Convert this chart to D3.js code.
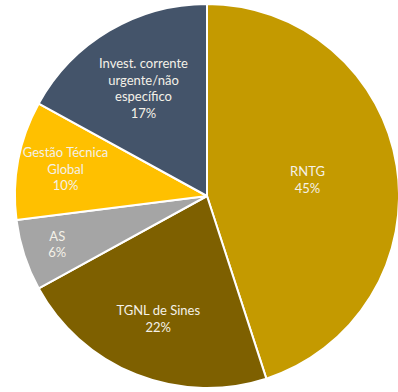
<!DOCTYPE html>
<html>
<head>
<meta charset="utf-8">
<script src="https://cdn.jsdelivr.net/npm/d3@7/dist/d3.min.js"></script>
<style>
  html, body { margin: 0; padding: 0; background: #fff; }
  svg { display: block; }
</style>
</head>
<body>
<svg id="chart" width="398" height="392"></svg>
<script>
// Investment split by area (percent of total)
const categories = ["RNTG", "TGNL de Sines", "AS", "Gestão Técnica Global", "Invest. corrente urgente/não específico"];
const values = [45, 22, 6, 10, 17];
// Label lines shown inside each slice
const labelLines = [
  ["RNTG"],
  ["TGNL de Sines"],
  ["AS"],
  ["Gestão Técnica", "Global"],
  ["Invest. corrente", "urgente/não", "específico"]
];
const colors = ["#C49A00", "#7E6000", "#A5A5A5", "#FFC000", "#44546A"];

const width = 398, height = 392;
const cx = 207, cy = 196, radius = 192;
// how far out (fraction of radius) each label sits
const labelRadius = [0.53, 0.69, 0.82, 0.75, 0.65];

const svg = d3.select("#chart");
const g = svg.append("g").attr("transform", `translate(${cx},${cy})`);

const pie = d3.pie().sort(null).value(d => d.value);
const data = categories.map((c, i) => ({ name: c, value: values[i], lines: labelLines[i], color: colors[i], lr: labelRadius[i] }));
const arcs = pie(data);

const arc = d3.arc().innerRadius(0).outerRadius(radius);

g.selectAll("path.slice")
  .data(arcs)
  .join("path")
  .attr("class", "slice")
  .attr("d", arc)
  .attr("fill", d => d.data.color)
  .attr("stroke", "#fff")
  .attr("stroke-width", 2)
  .attr("stroke-linejoin", "round");

const lineH = 16.5;
const labels = g.selectAll("text.lbl")
  .data(arcs)
  .join("text")
  .attr("class", "lbl")
  .attr("text-anchor", "middle")
  .attr("font-family", "Lato, 'Open Sans', sans-serif")
  .attr("font-size", 13)
  .attr("fill", "#F4F1E8")
  .attr("transform", d => {
    const a = (d.startAngle + d.endAngle) / 2;
    const r = radius * d.data.lr;
    return `translate(${Math.sin(a) * r},${-Math.cos(a) * r})`;
  });

labels.each(function(d) {
  const lines = d.data.lines.concat([d.data.value + "%"]);
  const t = d3.select(this);
  const y0 = -((lines.length - 1) * lineH) / 2 + 4.5;
  lines.forEach((ln, i) => {
    t.append("tspan").attr("x", 0).attr("y", y0 + i * lineH).text(ln);
  });
});
</script>
</body>
</html>
